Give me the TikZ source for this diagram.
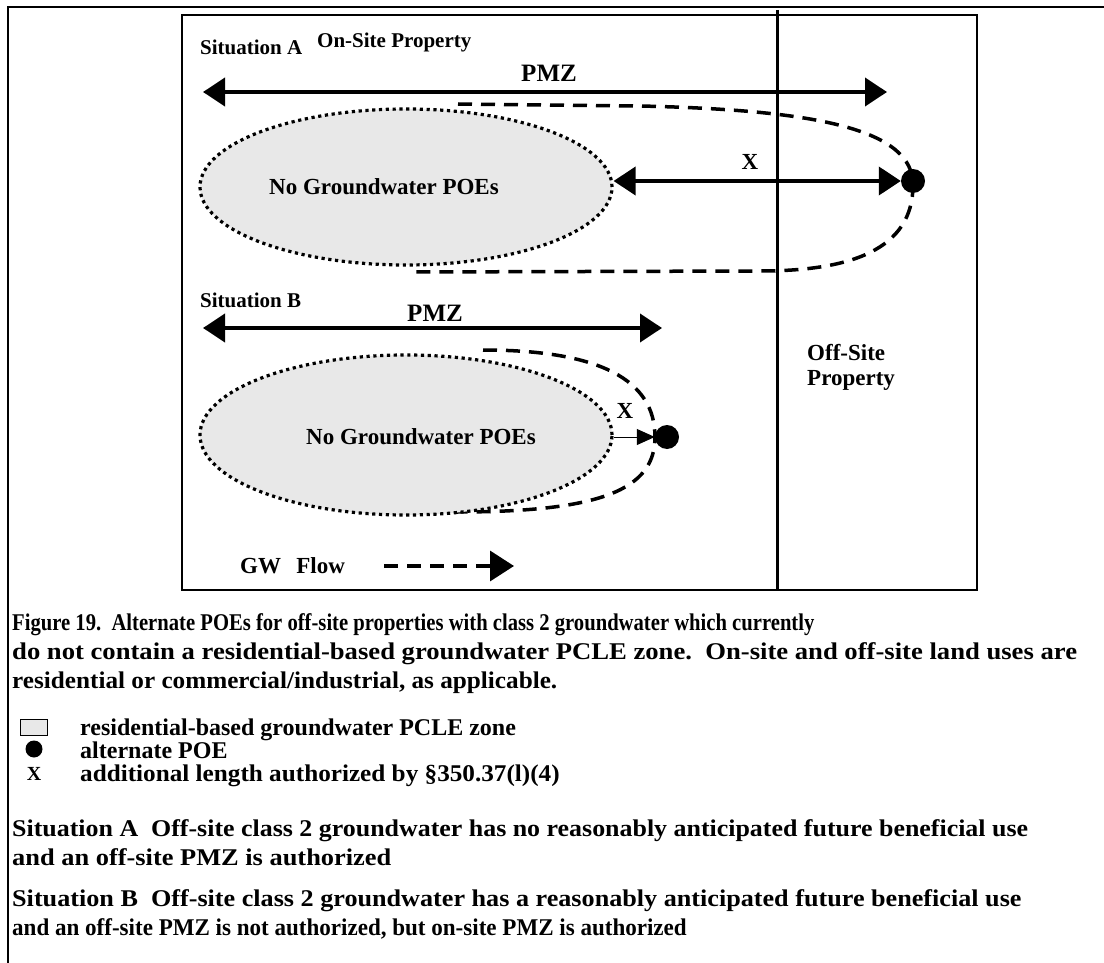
\documentclass[tikz,border=0pt]{standalone}
\usepackage{fontspec}
\usepackage{graphicx}
\setmainfont{Liberation Serif}
\usetikzlibrary{arrows.meta,shapes.geometric}

\definecolor{zonegray}{RGB}{232,232,232}

\newcommand{\capline}[2]{\scalebox{#1}[1]{#2}}

\tikzset{
  txt/.style={font=\fontsize{21}{25}\selectfont\bfseries, inner sep=0pt},
  bigtxt/.style={font=\fontsize{23}{27}\selectfont\bfseries, inner sep=0pt},
  pmztxt/.style={font=\fontsize{25}{29}\selectfont\bfseries, inner sep=0pt},
  captxt/.style={font=\fontsize{24}{29}\selectfont\bfseries, inner sep=0pt, anchor=base west},
  pmzarrow/.style={line width=4pt, {Triangle[length=22pt,width=28pt]}-{Triangle[length=22pt,width=28pt]}},
  zone/.style={ellipse, draw, fill=zonegray, line width=3.2pt, dash pattern=on 3.2pt off 3.6pt, inner sep=0pt},
  plume/.style={line width=3.5pt, dash pattern=on 14pt off 9pt},
  poe/.style={circle, fill=black, inner sep=0pt, minimum size=24pt},
}

\begin{document}
\begin{tikzpicture}[x=1pt, y=-1pt]
\useasboundingbox (0,0) rectangle (1104,963);

% Frame
\draw[line width=2.5pt] (8,963) -- (8,7) -- (1104,7);
\draw[line width=2pt] (182,15) rectangle (977,590);
\draw[line width=3pt] (777,10) -- (777,590);

% Situation A
\node[txt, anchor=west] (sitA) at (200,47) {Situation A};
\node[txt, anchor=west] (onsite) at (317,42) {On-Site Property};
\node[pmztxt] (pmzA) at (549,73) {PMZ};
\coordinate (pmzAl) at (203,92);
\coordinate (pmzAr) at (887,92);
\draw[pmzarrow] (pmzAl) -- (pmzAr);

\draw[plume] (458,104) -- (640,106) .. controls (820,110) and (913,130) .. (913,185)
  .. controls (913,250) and (850,271) .. (760,271) -- (410,272);
\node[zone, minimum width=412pt, minimum height=156pt] (zoneA) at (406,187) {};
\node[bigtxt] (zoneAtxt) at (384,187) {No Groundwater POEs};
\node[poe] (poeA) at (913,181) {};
\node[bigtxt] (xA) at (750,162) {X};
\draw[pmzarrow] (zoneA.east |- poeA) -- (poeA.west);

% Off-site
\node[bigtxt, anchor=west] (offsite) at (807,353) {Off-Site};
\node[bigtxt, anchor=west] (offprop) at (807,380) {Property};

% Situation B
\node[txt, anchor=west] (sitB) at (200,300) {Situation B};
\node[pmztxt] (pmzB) at (435,313) {PMZ};
\coordinate (pmzBl) at (203,328);
\coordinate (pmzBr) at (662,328);
\draw[pmzarrow] (pmzBl) -- (pmzBr);

\draw[plume] (483,350) .. controls (600,350) and (655,380) .. (655,437)
  .. controls (655,490) and (600,512) .. (456,512);
\node[zone, minimum width=412pt, minimum height=160pt] (zoneB) at (406,435) {};
\node[bigtxt] (zoneBtxt) at (421,437) {No Groundwater POEs};
\node[poe] (poeB) at (667,437) {};
\node[bigtxt] (xB) at (625,411) {X};
\draw[line width=1pt, -{Triangle[length=18pt,width=16pt]}] (zoneB.east |- poeB) -- (poeB.west);

% Flow
\node[bigtxt, anchor=west] (gw) at (240,566) {GW\ \ \,Flow};
\coordinate (flowl) at (384,566);
\coordinate (flowr) at (514,566);
\draw[plume, -{Triangle[length=24pt,width=30pt]}] (flowl) -- (flowr);

% Caption
\node[captxt] (cap1) at (12,630) {\capline{0.86}{Figure 19.\ \ Alternate POEs for off-site properties with class 2 groundwater which currently}};
\node[captxt] (cap2) at (12,659) {\capline{1.11}{do not contain a residential-based groundwater PCLE zone.\ \ On-site and off-site land uses are}};
\node[captxt] (cap3) at (12,688) {\capline{1.05}{residential or commercial/industrial, as applicable.}};

% Legend
\node[draw, fill=zonegray, line width=1pt, minimum width=27pt, minimum height=16pt, inner sep=0pt] (keyzone) at (34,727) {};
\node[poe, minimum size=17pt] (keypoe) at (34,749) {};
\node[captxt, anchor=base] (keyx) at (34,780) {\fontsize{20}{24}\selectfont X};
\node[captxt] (keyzonetxt) at (80,735) {residential-based groundwater PCLE zone};
\node[captxt] (keypoetxt) at (80,758) {alternate POE};
\node[captxt] (keyxtxt) at (80,781) {\capline{1.05}{additional length authorized by §350.37(l)(4)}};

% Situations
\node[captxt] (noteA1) at (12,836) {\capline{1.08}{Situation A\ \ Off-site class 2 groundwater has no reasonably anticipated future beneficial use}};
\node[captxt] (noteA2) at (12,865) {\capline{1.1}{and an off-site PMZ is authorized}};
\node[captxt] (noteB1) at (12,906) {\capline{1.09}{Situation B\ \ Off-site class 2 groundwater has a reasonably anticipated future beneficial use}};
\node[captxt] (noteB2) at (12,935) {\capline{0.96}{and an off-site PMZ is not authorized, but on-site PMZ is authorized}};

\end{tikzpicture}
\end{document}
